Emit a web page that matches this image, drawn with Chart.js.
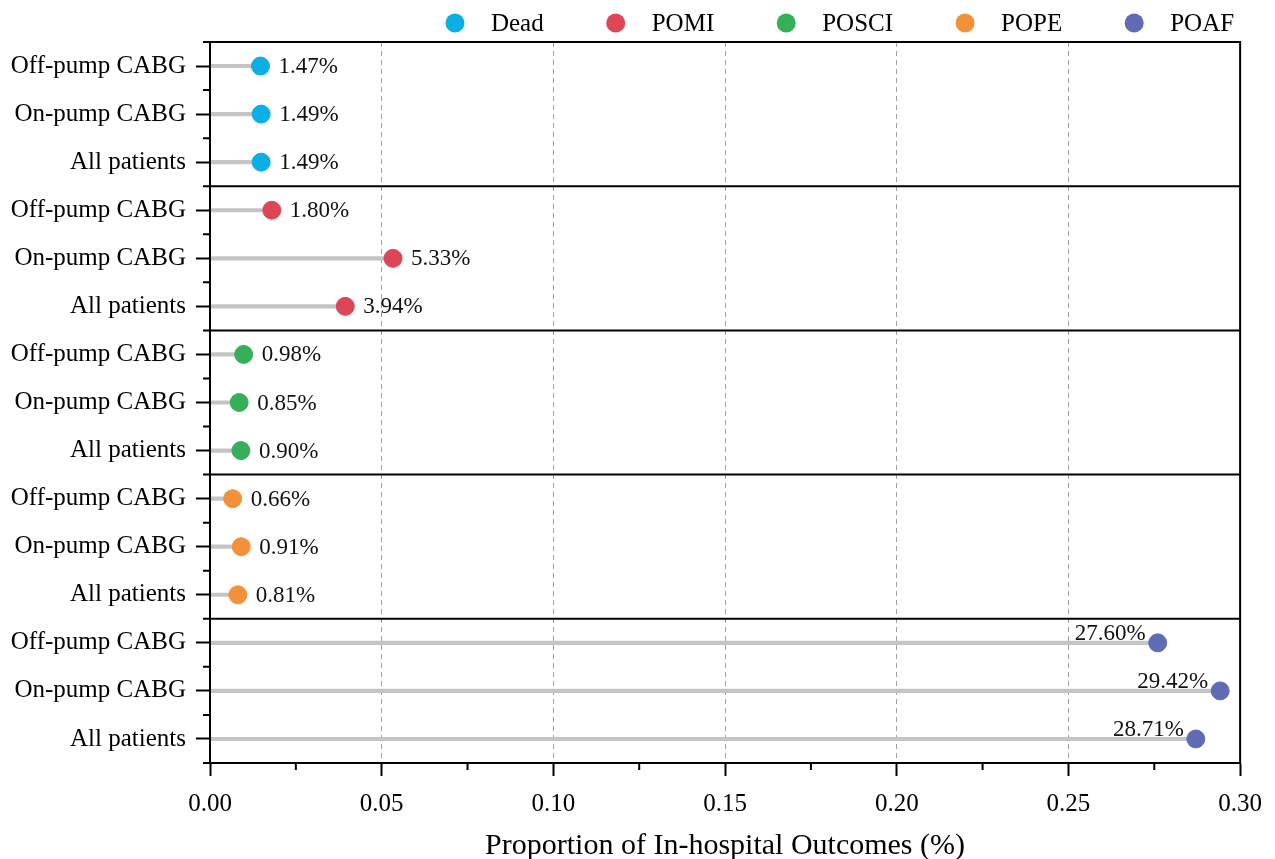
<!DOCTYPE html>
<html>
<head>
<meta charset="utf-8">
<script src="https://cdn.jsdelivr.net/npm/chart.js@4/dist/chart.umd.min.js"></script>
<style>
  html, body { margin: 0; padding: 0; background: #fff; }
  #wrap { width: 1275px; height: 859px; position: relative; }
</style>
</head>
<body>
<div id="wrap"><canvas id="chart"></canvas></div>
<script>
// ── Data ───────────────────────────────────────────────────────
const outcomes  = ['Dead', 'POMI', 'POSCI', 'POPE', 'POAF'];
const subgroups = ['Off-pump CABG', 'On-pump CABG', 'All patients'];

const dead  = [0.0147, 0.0149, 0.0149];
const pomi  = [0.0180, 0.0533, 0.0394];
const posci = [0.0098, 0.0085, 0.0090];
const pope  = [0.0066, 0.0091, 0.0081];
const poaf  = [0.2760, 0.2942, 0.2871];

const xTicks = [0, 0.05, 0.10, 0.15, 0.20, 0.25, 0.30];

const colors = ['#0BAEE5', '#DC4657', '#35B059', '#F29139', '#5F6CB5'];

const series    = [dead, pomi, posci, pope, poaf];
const rowLabels = outcomes.flatMap(() => subgroups);

const FONT = "'Liberation Serif', 'Times New Roman', serif";

// ── Datasets ───────────────────────────────────────────────────
const stemData = [];
series.forEach((vals, g) => vals.forEach((v, k) => stemData.push({ x: v, y: g * 3 + k })));

const pointSets = series.map((vals, g) => ({
  type: 'scatter',
  label: outcomes[g],
  data: vals.map((v, k) => ({ x: v, y: g * 3 + k })),
  backgroundColor: colors[g],
  borderColor: colors[g],
  pointRadius: 9,
  pointHoverRadius: 9,
  order: 0,
}));

const stems = {
  type: 'bar',
  label: 'stems',
  indexAxis: 'y',
  data: stemData,
  backgroundColor: '#c4c4c4',
  borderWidth: 0,
  barThickness: 3.5,
  order: 1,
};

// ── Plugins ────────────────────────────────────────────────────
const framePlugin = {
  id: 'frame',
  afterDatasetsDraw(chart) {
    const { ctx, chartArea: a, scales: { x, y } } = chart;
    ctx.save();
    ctx.setLineDash([]);
    ctx.strokeStyle = '#000';
    ctx.lineWidth = 2;
    ctx.beginPath();
    // box
    ctx.rect(a.left, a.top, a.right - a.left, a.bottom - a.top);
    // group separators
    for (let g = 1; g < outcomes.length; g++) {
      const py = y.getPixelForValue(g * 3 - 0.5);
      ctx.moveTo(a.left, py); ctx.lineTo(a.right, py);
    }
    // minor y ticks
    for (let i = -0.5; i <= rowLabels.length - 0.5; i += 1) {
      const py = y.getPixelForValue(i);
      ctx.moveTo(a.left - 7, py); ctx.lineTo(a.left, py);
    }
    // minor x ticks
    for (let i = 0; i < xTicks.length - 1; i++) {
      const px = x.getPixelForValue((xTicks[i] + xTicks[i + 1]) / 2);
      ctx.moveTo(px, a.bottom); ctx.lineTo(px, a.bottom + 7);
    }
    ctx.stroke();
    ctx.restore();
  },
};

const labelPlugin = {
  id: 'valueLabels',
  afterDatasetsDraw(chart) {
    const { ctx, chartArea: a } = chart;
    ctx.save();
    ctx.font = '23px ' + FONT;
    ctx.fillStyle = '#111';
    ctx.textBaseline = 'middle';
    chart.data.datasets.forEach((ds, di) => {
      if (ds.type !== 'scatter') return;
      const meta = chart.getDatasetMeta(di);
      meta.data.forEach((pt, i) => {
        const txt = (ds.data[i].x * 100).toFixed(2) + '%';
        const w = ctx.measureText(txt).width;
        if (pt.x + 18 + w <= a.right - 2) {
          ctx.textAlign = 'left';
          ctx.fillText(txt, pt.x + 18, pt.y + 1);
        } else {
          ctx.textAlign = 'right';
          ctx.fillText(txt, pt.x - 12, pt.y - 9);
        }
      });
    });
    ctx.restore();
  },
};

const legendPlugin = {
  id: 'topLegend',
  afterDraw(chart) {
    const { ctx, chartArea: a } = chart;
    ctx.save();
    ctx.font = '25px ' + FONT;
    const widths = outcomes.map(t => ctx.measureText(t).width);
    const textGap = 36, itemGap = 72;
    let total = 0;
    widths.forEach((w, i) => { total += textGap + w + (i < widths.length - 1 ? itemGap : 0); });
    let cx = a.right - 6 - total;
    const cy = 23;
    outcomes.forEach((t, i) => {
      ctx.fillStyle = colors[i];
      ctx.beginPath();
      ctx.arc(cx, cy, 9.5, 0, Math.PI * 2);
      ctx.fill();
      ctx.fillStyle = '#000';
      ctx.textAlign = 'left';
      ctx.textBaseline = 'middle';
      ctx.fillText(t, cx + textGap, cy + 1);
      cx += textGap + widths[i] + itemGap;
    });
    ctx.restore();
  },
};

// ── Chart ──────────────────────────────────────────────────────
new Chart(document.getElementById('chart'), {
  type: 'scatter',
  data: { datasets: [...pointSets, stems] },
  options: {
    responsive: true,
    maintainAspectRatio: false,
    animation: false,
    layout: { padding: { top: 42, right: 33, left: 0, bottom: 0 } },
    plugins: {
      legend: { display: false },
      tooltip: { enabled: false },
    },
    scales: {
      x: {
        type: 'linear',
        min: 0,
        max: 0.30,
        afterBuildTicks: s => { s.ticks = xTicks.map(v => ({ value: v })); },
        afterFit: s => { s.height = 96; },
        ticks: {
          callback: v => Number(v).toFixed(2),
          font: { family: FONT, size: 25 },
          color: '#000',
          padding: 13,
          maxRotation: 0,
        },
        grid: {
          color: '#a0a0a0',
          lineWidth: 1,
          drawTicks: true,
          tickLength: 13,
          tickColor: '#000',
          tickWidth: 2,
          tickBorderDash: [],
        },
        border: { display: true, color: '#000', width: 2, dash: [5, 4] },
        title: {
          display: true,
          text: 'Proportion of In-hospital Outcomes (%)',
          font: { family: FONT, size: 30, lineHeight: 1 },
          color: '#000',
          padding: { top: 0, bottom: -2 },
        },
      },
      y: {
        type: 'linear',
        reverse: true,
        min: -0.5,
        max: rowLabels.length - 0.5,
        offset: false,
        afterBuildTicks: s => { s.ticks = rowLabels.map((_, i) => ({ value: i })); },
        afterFit: s => { s.width = 210; },
        ticks: {
          callback: v => rowLabels[v],
          autoSkip: false,
          font: { family: FONT, size: 25 },
          color: '#000',
          padding: 10,
        },
        grid: {
          offset: false,
          drawOnChartArea: false,
          drawTicks: true,
          tickLength: 14,
          tickColor: '#000',
          tickWidth: 2,
        },
        border: { display: true, color: '#000', width: 2 },
      },
    },
  },
  plugins: [framePlugin, labelPlugin, legendPlugin],
});
</script>
</body>
</html>
